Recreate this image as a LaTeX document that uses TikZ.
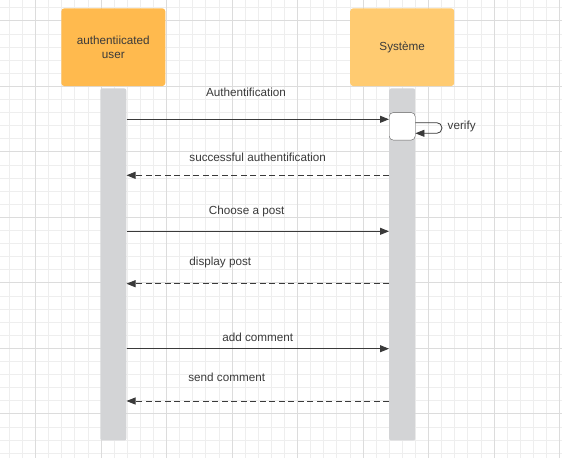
\documentclass[tikz,border=0pt]{standalone}
\usepackage{fontspec}
\setmainfont{Liberation Sans}
\usetikzlibrary{arrows.meta,positioning}
\definecolor{LcOrange}{HTML}{FFBA4E}
\definecolor{LcPeach}{HTML}{FFCB71}
\definecolor{LcBar}{HTML}{D3D4D6}
\definecolor{LcInk}{HTML}{3A3A3A}
\definecolor{LcMinor}{HTML}{EEEEEE}
\definecolor{LcMajor}{HTML}{DCDCDC}

\begin{document}
\begin{tikzpicture}[
  x=1pt,y=-1pt,
  every node/.style={font=\fontsize{11.7}{14}\selectfont,text=LcInk},
  actor/.style={rounded corners=3pt,minimum width=104pt,minimum height=77.7pt,align=center,inner sep=0pt},
  lifeline/.style={fill=LcBar,rounded corners=2pt,minimum width=26pt,minimum height=352pt,inner sep=0pt},
  msg/.style={-{Triangle[length=9pt,width=7pt]},draw=LcInk,line width=0.8pt},
  reply/.style={msg,dash pattern=on 6pt off 3.5pt},
  lbl/.style={inner sep=0pt}
]
\useasboundingbox (0,0) rectangle (562,458);
\fill[white] (0,0) rectangle (562,458);
% background grid
\foreach \i in {-2,...,40}
  \draw[LcMinor,line width=0.8pt] ({35.5+13.1*\i},0) -- ({35.5+13.1*\i},458);
\foreach \j in {-1,...,33}
  \draw[LcMinor,line width=0.8pt] (0,{20.8+13.1*\j}) -- (562,{20.8+13.1*\j});
\foreach \i in {0,...,8}
  \draw[LcMajor,line width=0.8pt] ({35.5+65.5*\i},0) -- ({35.5+65.5*\i},458);
\foreach \j in {0,...,6}
  \draw[LcMajor,line width=0.8pt] (0,{20.8+65.5*\j}) -- (562,{20.8+65.5*\j});

% participants
\node[actor,fill=LcOrange] (usr) at (113.3,47.2) {authentiicated\\user};
\node[actor,fill=LcPeach] (sys) at (402.2,47.2) {Système};
\node[lifeline,below=2pt of usr] (usrline) {};
\node[lifeline,below=2pt of sys] (sysline) {};
\node[draw=LcInk!80,fill=white,rounded corners=4pt,minimum width=26pt,minimum height=27.5pt,inner sep=0pt] (act) at (402.2,126.3) {};

% message rows
\coordinate (m1) at (0,119.3);
\coordinate (m2) at (0,175.3);
\coordinate (m3) at (0,231.3);
\coordinate (m4) at (0,283.7);
\coordinate (m5) at (0,348.7);
\coordinate (m6) at (0,401);

\draw[msg] (usrline.east |- m1) -- (act.west |- m1);
\draw[reply] (sysline.west |- m2) -- (usrline.east |- m2);
\draw[msg] (usrline.east |- m3) -- (sysline.west |- m3);
\draw[reply] (sysline.west |- m4) -- (usrline.east |- m4);
\draw[msg] (usrline.east |- m5) -- (sysline.west |- m5);
\draw[reply] (sysline.west |- m6) -- (usrline.east |- m6);
\draw[msg,rounded corners=5pt] ([yshift=3.6pt]act.east) -- ++(26.5,0) -- ++(0,10.6) -- ([yshift=-7pt]act.east);

% labels
\node[lbl] (l1) at (246,92.7) {Authentification};
\node[lbl] (l2) at (257.7,157.7) {successful authentification};
\node[lbl] (l3) at (246.7,211) {Choose a post};
\node[lbl] (l4) at (220.3,262.7) {display post};
\node[lbl] (l5) at (257.8,337.3) {add comment};
\node[lbl] (l6) at (226.7,377.3) {send comment};
\node[lbl] (l7) at (461.7,126.5) {verify};
\end{tikzpicture}
\end{document}
